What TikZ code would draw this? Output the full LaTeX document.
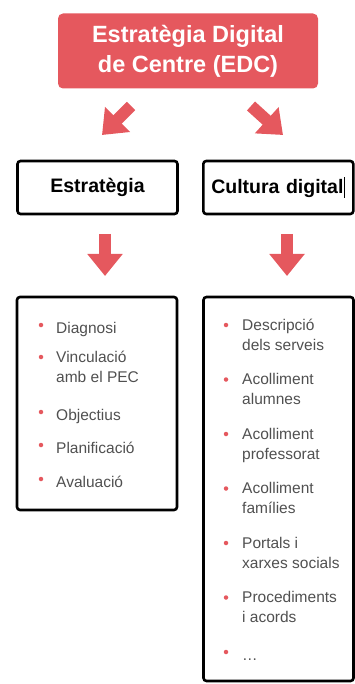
\documentclass[tikz,border=0pt]{standalone}
\usepackage{fontspec}
\setmainfont{Liberation Sans}
\usetikzlibrary{arrows.meta, positioning}
\definecolor{edcred}{RGB}{229,88,94}
\definecolor{itemgray}{RGB}{80,80,80}
\tikzset{
  title/.style={rectangle, rounded corners=5pt, fill=edcred, text=white,
                align=center, minimum width=260pt, minimum height=75pt,
                font=\fontsize{23.5}{30}\selectfont\bfseries},
  headbox/.style={rectangle, rounded corners=3pt, draw=black, line width=2.6pt,
                  minimum height=53pt, font=\fontsize{19.5}{22}\selectfont\bfseries},
  listbox/.style={rectangle, rounded corners=3pt, draw=black, line width=2.6pt},
  bigarrow/.style={edcred, line width=12pt, -{Triangle[length=22pt, width=34pt]}},
  dot/.style={circle, fill=edcred, inner sep=0pt, minimum size=4.5pt},
  item/.style={anchor=north west, align=left, inner sep=0pt, text=itemgray,
               font=\fontsize{15.5}{20}\selectfont, execute at begin node=\strut},
}

\begin{document}
\begin{tikzpicture}[x=1pt, y=-1pt]
        \useasboundingbox (0,0) rectangle (355,684);
        \clip (0,0) rectangle (355,684);

        % title
        \node[title] (edc) at (188,51) {Estratègia Digital\\de Centre (EDC)};

        % diagonal arrows
        \coordinate (la0) at (131,106);
        \coordinate (la1) at (102,135);
        \coordinate (ra0) at (251,106);
        \coordinate (ra1) at (283,135);
        \draw[bigarrow] (la0) -- (la1);
        \draw[bigarrow] (ra0) -- (ra1);

        % head boxes
        \node[headbox, minimum width=160pt] (estr) at (97.5,187.5) {Estratègia};
        \node[headbox, anchor=west, text width=134pt, align=left, inner sep=8pt]
          (cult) at (202,187.5) {Cultura digital\kern1pt\rule[-4pt]{0.8pt}{21pt}};

        % down arrows
        \coordinate (ld0) at (105,234);
        \coordinate (ld1) at (105,276);
        \coordinate (rd0) at (287,234);
        \coordinate (rd1) at (287,276);
        \draw[bigarrow] (ld0) -- (ld1);
        \draw[bigarrow] (rd0) -- (rd1);

        % list boxes
        \node[listbox, minimum width=160pt, minimum height=213pt] (estrlist) at (97,403.5) {};
        \node[listbox, minimum width=150pt, minimum height=384pt] (cultlist) at (278.5,489) {};

        % Estrategia items
        \foreach \y/\lbl [count=\i] in {333/Diagnosi, 365/{Vinculació\\amb el PEC},
            420/Objectius, 453/Planificació, 487/Avaluació}{
          \node[dot] (ed\i) at (41,\y-8) {};
          \node[item] (ei\i) at (56,\y-14) {\lbl};
        }

        % Cultura digital items
        \foreach \y/\lbl [count=\i] in {333/{Descripció\\dels serveis},
            387.5/{Acolliment\\alumnes}, 442/{Acolliment\\professorat},
            496.5/{Acolliment\\famílies}, 551/{Portals i\\xarxes socials},
            605.5/{Procediments\\i acords}, 660/\ldots}{
          \node[dot] (cd\i) at (226,\y-8) {};
          \node[item] (ci\i) at (242,\y-14) {\lbl};
        }
\end{tikzpicture}
\end{document}
